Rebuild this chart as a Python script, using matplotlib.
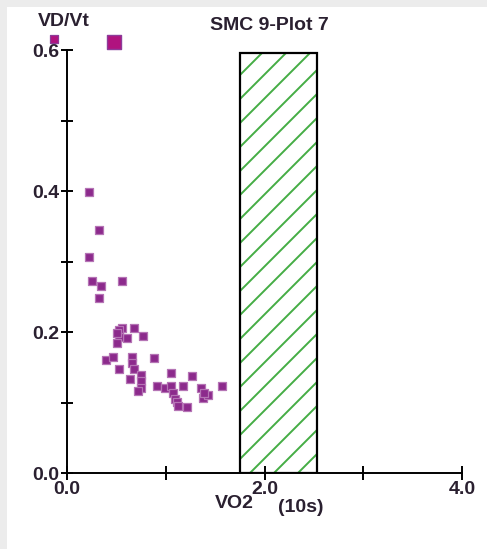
import matplotlib
matplotlib.use('Agg')
import numpy as np
import matplotlib.pyplot as plt
import matplotlib.patches as mpatches

plt.rcParams['font.family'] = ['Liberation Sans', 'DejaVu Sans']

# VD/Vt against VO2, 10 s averages
vo2 = [0.226, 0.32, 0.226, 0.25, 0.344, 0.32, 0.557,
       0.557, 0.523, 0.678, 0.77, 0.604, 0.523, 0.503, 0.51,
       0.392, 0.463, 0.523, 0.655, 0.655, 0.678, 0.638,
       0.749, 0.749, 0.749, 0.716, 0.884, 0.908, 0.992,
       1.053, 1.053, 1.077, 1.094, 1.111, 1.127, 1.212,
       1.171, 1.262, 1.357, 1.38, 1.431, 1.39, 1.566]
vdvt = [0.398, 0.345, 0.307, 0.273, 0.265, 0.248, 0.273,
        0.206, 0.203, 0.206, 0.195, 0.191, 0.193, 0.185, 0.198,
        0.160, 0.164, 0.148, 0.164, 0.156, 0.148, 0.133,
        0.139, 0.130, 0.121, 0.116, 0.163, 0.124, 0.120,
        0.142, 0.124, 0.113, 0.105, 0.101, 0.095, 0.093,
        0.124, 0.138, 0.121, 0.107, 0.111, 0.113, 0.124]
# highlighted point and the stray point left of the axis
big_x, big_y = [0.48], [0.611]
off_x, off_y = [-0.13], [0.615]

# shaded band
band_x0 = 1.75
band_x1 = 2.53
band_top = 0.596

x_ticks = [0, 1, 2, 3, 4]
x_labels = ['0.0', '', '2.0', '', '4.0']
y_ticks = [0, 0.1, 0.2, 0.3, 0.4, 0.5, 0.6]
y_labels = ['0.0', '', '0.2', '', '0.4', '', '0.6']

TXT = '#2a2030'
FS = 14

fig = plt.figure(figsize=(4.87, 5.49), dpi=100, facecolor='#ececec')
fig.patches.append(mpatches.Rectangle((7 / 487, 0), 1, 1 - 7 / 549,
                                      transform=fig.transFigure,
                                      facecolor='white', edgecolor='none',
                                      zorder=-10))
ax = fig.add_axes([67 / 487, 1 - 473 / 549, 395 / 487, 423 / 549])
ax.set_facecolor('none')
ax.set_xlim(0, 4)
ax.set_ylim(0, 0.6)

bars = ax.bar(band_x0, band_top, width=band_x1 - band_x0, align='edge',
              facecolor='none', edgecolor='black', linewidth=1.6, zorder=2)

# 45 degree green hatching, clipped to the band
p0 = ax.transData.transform((0, 0))
p1 = ax.transData.transform((1, 1))
px_x, px_y = p1[0] - p0[0], p1[1] - p0[1]
step = 24 / px_x
rise = band_top * px_y / px_x
for xb in np.arange(1.853 - 30 * step, band_x1 + step, step):
    ln, = ax.plot([xb, xb + rise], [0, band_top], color='#45ad45',
                  linewidth=1.4, zorder=1, solid_capstyle='butt')
    ln.set_clip_path(bars[0])

ax.scatter(vo2, vdvt, marker='s', s=34, facecolor='#8c2a8c',
           edgecolor='#b574b5', linewidth=0.9, zorder=3)
ax.scatter(big_x, big_y, marker='s', s=95, facecolor='#b0137f',
           edgecolor='#8d3c9a', linewidth=1.0, zorder=3, clip_on=False)
ax.scatter(off_x, off_y, marker='s', s=34, facecolor='#b0137f',
           edgecolor='#8d3c9a', linewidth=0.9, zorder=1, clip_on=False)

for s in ['top', 'right']:
    ax.spines[s].set_visible(False)
for s in ['left', 'bottom']:
    ax.spines[s].set_linewidth(1.4)

ax.set_xticks(x_ticks)
ax.set_xticklabels(x_labels)
ax.set_yticks(y_ticks)
ax.set_yticklabels(y_labels)
ax.tick_params(axis='x', direction='inout', length=10, width=1.4, pad=1,
               labelsize=FS, colors='black')
ax.tick_params(axis='y', direction='inout', length=8.5, width=1.4, pad=1,
               labelsize=FS, colors='black')
for lab in ax.get_xticklabels() + ax.get_yticklabels():
    lab.set_fontweight('bold')
    lab.set_color(TXT)

fig.text(269 / 487, 1 - 25 / 549, 'SMC 9-Plot 7', ha='center', va='center',
         fontsize=FS, fontweight='bold', color=TXT)
fig.text(64 / 487, 1 - 22 / 549, 'VD/Vt', ha='center', va='center',
         fontsize=FS, fontweight='bold', color=TXT)
fig.text(234 / 487, 1 - 503 / 549, 'VO2', ha='center', va='center',
         fontsize=FS, fontweight='bold', color=TXT)
fig.text(301 / 487, 1 - 507 / 549, '(10s)', ha='center', va='center',
         fontsize=FS, fontweight='bold', color=TXT)

fig.savefig('out.png', dpi=100, facecolor=fig.get_facecolor())
